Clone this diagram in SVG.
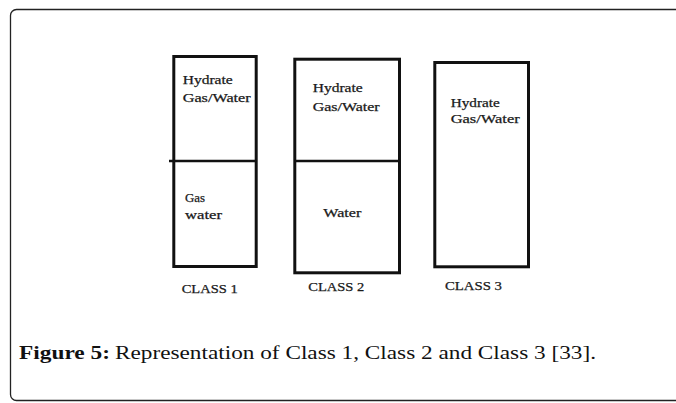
<svg xmlns="http://www.w3.org/2000/svg" width="676" height="403" viewBox="0 0 676 403">
<style>
.box{fill:#fff;stroke:#111;stroke-width:3}
.div{stroke:#111;stroke-width:2.5}
.lbl{font-family:"Liberation Serif","Times New Roman",serif;font-size:12px;fill:#1a1a1a;stroke:#1a1a1a;stroke-width:0.25}
.cls{font-family:"Liberation Serif","Times New Roman",serif;font-size:12px;fill:#1a1a1a;stroke:#1a1a1a;stroke-width:0.25}
.cap{font-family:"Liberation Serif","Times New Roman",serif;font-size:18px;fill:#111}
</style>
<rect width="676" height="403" fill="#fff"/>
<path d="M 676 9.5 H 16.5 A 6 6 0 0 0 10.5 15.5 V 394.5 A 6 6 0 0 0 16.5 400.5 H 676" fill="none" stroke="#222" stroke-width="1.3"/>
<g id="class1">
<rect class="box" x="173.8" y="56.5" width="82.4" height="210"/>
<line class="div" x1="169" y1="161" x2="256" y2="161"/>
<text class="lbl" x="182.7" y="84.3" textLength="50" lengthAdjust="spacingAndGlyphs">Hydrate</text>
<text class="lbl" x="182.7" y="102" textLength="68" lengthAdjust="spacingAndGlyphs">Gas/Water</text>
<text class="lbl" x="185" y="201.7" textLength="20" lengthAdjust="spacingAndGlyphs">Gas</text>
<text class="lbl" x="185" y="218.5" textLength="37" lengthAdjust="spacingAndGlyphs">water</text>
<text class="cls" x="181.7" y="293" textLength="56" lengthAdjust="spacingAndGlyphs">CLASS 1</text>
</g>
<g id="class2">
<rect class="box" x="294.8" y="59.2" width="104.7" height="213.6"/>
<line class="div" x1="294.8" y1="161" x2="399.5" y2="161"/>
<text class="lbl" x="312.7" y="91.7" textLength="50" lengthAdjust="spacingAndGlyphs">Hydrate</text>
<text class="lbl" x="312.7" y="110.5" textLength="67" lengthAdjust="spacingAndGlyphs">Gas/Water</text>
<text class="lbl" x="323.3" y="216.7" textLength="38" lengthAdjust="spacingAndGlyphs">Water</text>
<text class="cls" x="308.3" y="290.5" textLength="56" lengthAdjust="spacingAndGlyphs">CLASS 2</text>
</g>
<g id="class3">
<rect class="box" x="434.8" y="62.5" width="93.7" height="204.3"/>
<text class="lbl" x="450.7" y="106.7" textLength="49" lengthAdjust="spacingAndGlyphs">Hydrate</text>
<text class="lbl" x="450.7" y="123.3" textLength="69" lengthAdjust="spacingAndGlyphs">Gas/Water</text>
<text class="cls" x="445" y="290" textLength="57" lengthAdjust="spacingAndGlyphs">CLASS 3</text>
</g>
<g id="connectors"></g>
<g id="caption">
<text class="cap" x="19" y="359" font-weight="bold" textLength="91" lengthAdjust="spacingAndGlyphs">Figure 5:</text>
<text class="cap" x="115" y="359" textLength="481" lengthAdjust="spacingAndGlyphs">Representation of Class 1, Class 2 and Class 3 [33].</text>
</g>
</svg>
